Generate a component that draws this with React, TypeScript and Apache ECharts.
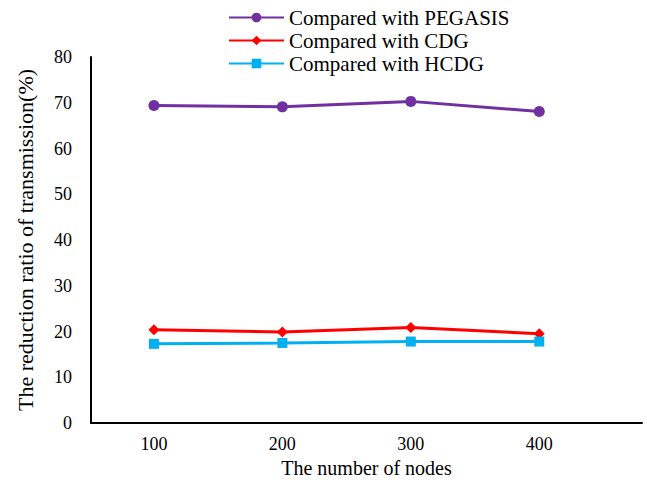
import React, { useEffect, useRef } from "react";
import * as echarts from "echarts";

const nodeCounts = [100, 200, 300, 400];
const pegasis = [69.4, 69.1, 70.3, 68.1];
const cdg = [20.4, 19.9, 20.9, 19.5];
const hcdg = [17.3, 17.5, 17.8, 17.8];
const seriesNames = ["Compared with PEGASIS", "Compared with CDG", "Compared with HCDG"];
const FONT = "'Liberation Serif', 'Times New Roman', serif";

export default function App() {
  const ref = useRef<HTMLDivElement>(null);
  useEffect(() => {
    document.body.style.margin = "0";
    const chart = echarts.init(ref.current!, null, { renderer: "svg" });
    const pair = (vals: number[]) => nodeCounts.map((n, i) => [n, vals[i]]);
    chart.setOption({
      animation: false,
      backgroundColor: "#ffffff",
      textStyle: { fontFamily: FONT },
      legend: {
        orient: "vertical",
        left: 228,
        top: 7,
        padding: 0,
        itemWidth: 55,
        itemHeight: 12,
        itemGap: 2,
        textStyle: { fontFamily: FONT, fontSize: 21, color: "#000" },
        data: seriesNames,
      },
      grid: { left: 91, right: 5, top: 57, bottom: 66, containLabel: false },
      xAxis: {
        type: "value",
        min: 51,
        max: 480,
        name: "The number of nodes",
        nameLocation: "middle",
        nameGap: 34,
        nameTextStyle: { fontFamily: FONT, fontSize: 20, color: "#000" },
        axisLine: { show: true, onZero: false, lineStyle: { color: "#000", width: 2 } },
        axisTick: { show: false },
        splitLine: { show: false },
        axisLabel: {
          customValues: nodeCounts,
          fontFamily: FONT,
          fontSize: 18,
          color: "#000",
          margin: 12,
        },
      },
      yAxis: {
        type: "value",
        min: 0,
        max: 80,
        interval: 10,
        name: "The reduction ratio of transmission(%)",
        nameLocation: "middle",
        nameGap: 55,
        nameTextStyle: { fontFamily: FONT, fontSize: 22, color: "#000" },
        axisLine: { show: true, lineStyle: { color: "#000", width: 2 } },
        axisTick: { show: false },
        splitLine: { show: false },
        axisLabel: { fontFamily: FONT, fontSize: 18, color: "#000", margin: 19 },
      },
      series: [
        {
          name: seriesNames[0],
          type: "line",
          data: pair(pegasis),
          symbol: "circle",
          symbolSize: 11,
          lineStyle: { color: "#7030A0", width: 3 },
          itemStyle: { color: "#7030A0" },
        },
        {
          name: seriesNames[1],
          type: "line",
          data: pair(cdg),
          symbol: "diamond",
          symbolSize: 11,
          lineStyle: { color: "#FF0000", width: 3 },
          itemStyle: { color: "#FF0000" },
        },
        {
          name: seriesNames[2],
          type: "line",
          data: pair(hcdg),
          symbol: "rect",
          symbolSize: 10,
          lineStyle: { color: "#00B0F0", width: 3 },
          itemStyle: { color: "#00B0F0" },
        },
      ],
    });
    return () => chart.dispose();
  }, []);
  return <div ref={ref} style={{ width: 647, height: 489, position: "absolute", left: 0, top: 0 }} />;
}
